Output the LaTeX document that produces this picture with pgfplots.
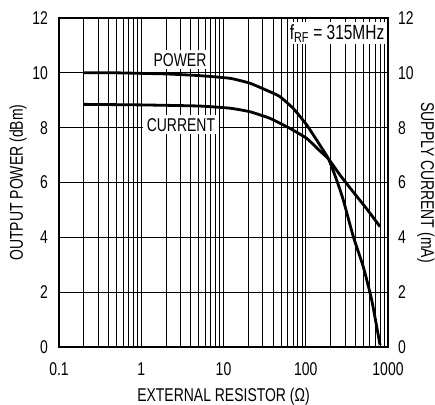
\documentclass[border=0pt]{standalone}
\usepackage{pgfplots}
\pgfplotsset{compat=1.18}
\usepackage{fontspec}
\setmainfont[FakeStretch=0.755]{Liberation Sans}

\begin{document}
\fontsize{18.5}{21}\selectfont
\begin{tikzpicture}
\begin{axis}[
  scale only axis, width=329pt, height=329pt,
  xmode=log, xmin=0.1, xmax=1000, ymin=0, ymax=12,
  xtick={0.1,1,10,100,1000}, xticklabels={0.1,1,10,100,1000},
  minor xtick={0.2,0.3,0.4,0.5,0.6,0.7,0.8,0.9,2,3,4,5,6,7,8,9,20,30,40,50,60,70,80,90,200,300,400,500,600,700,800,900},
  ytick={0,2,...,12},
  grid=both,
  major grid style={black, line width=0.7pt},
  minor grid style={black, line width=0.7pt},
  major tick length=0pt, minor tick length=0pt,
  axis line style={line width=2.4pt},
  /pgf/number format/assume math mode=true,
  xticklabel style={anchor=base, inner sep=0pt, yshift=-28pt},
  yticklabel style={anchor=east, inner sep=0pt, xshift=-11pt},
  xlabel={EXTERNAL RESISTOR (Ω)},
  xlabel style={at={([yshift=-54pt]axis description cs:0.5,0)}, anchor=base, inner sep=0pt},
  ylabel={OUTPUT POWER (dBm)},
  ylabel style={at={([xshift=-41pt]axis description cs:0,0.5)}, anchor=center, inner sep=0pt},
]
% output power
\addplot[black, line width=2.8pt, smooth, tension=0.3] coordinates {
  (0.2,10.0) (0.5,10.0) (1,9.98) (2,9.96) (5,9.9) (12,9.80) (21,9.62)
  (36.7,9.31) (48.6,9.13) (70.6,8.70) (102.6,8.10) (148.9,7.36) (190,6.85)
  (240,6.05) (286,5.36) (379,4.02) (501,2.92) (634,1.71) (800,0.07)
};
% supply current
\addplot[black, line width=2.8pt, smooth, tension=0.3] coordinates {
  (0.2,8.85) (1,8.83) (5,8.79) (12,8.71) (21,8.58) (36.7,8.34) (64.5,7.97)
  (102.6,7.61) (148.9,7.15) (190,6.85) (260,6.28) (346,5.80) (554,5.03)
  (800,4.39)
};
\node[fill=white, inner xsep=2pt, inner ysep=3pt] at (axis cs:2.96,10.47) {POWER};
\node[fill=white, inner xsep=4pt, inner ysep=3pt] at (axis cs:3.04,8.10) {CURRENT};
\node[fill=white, anchor=north east, inner xsep=2pt, inner ysep=2pt, text depth=3pt,
  font=\fontsize{20.5}{22}\selectfont]
  at ([xshift=-1.5pt,yshift=-4pt]rel axis cs:1,1) {f\textsubscript{RF} = 315MHz\hspace{8pt}};
\node[anchor=south east, inner sep=0pt, font=\fontsize{10.5}{12}\selectfont]
  at ([yshift=7pt]rel axis cs:1,1) {MAX1472 toc14};
\end{axis}
\begin{axis}[
  scale only axis, width=329pt, height=329pt,
  xmode=log, xmin=0.1, xmax=1000, ymin=0, ymax=12,
  axis x line=none, axis y line*=right,
  y axis line style={line width=2.4pt},
  ytick={0,2,...,12}, major tick length=0pt,
  /pgf/number format/assume math mode=true,
  yticklabel style={anchor=west, inner sep=0pt, xshift=10pt},
  ylabel={SUPPLY CURRENT (mA)},
  ylabel style={at={([xshift=38pt]axis description cs:1,0.5)}, anchor=center, inner sep=0pt, rotate=180},
]
\end{axis}
\pgfresetboundingbox
\path[use as bounding box] (-59pt,-57pt) rectangle (376pt,347pt);
\end{tikzpicture}
\end{document}
